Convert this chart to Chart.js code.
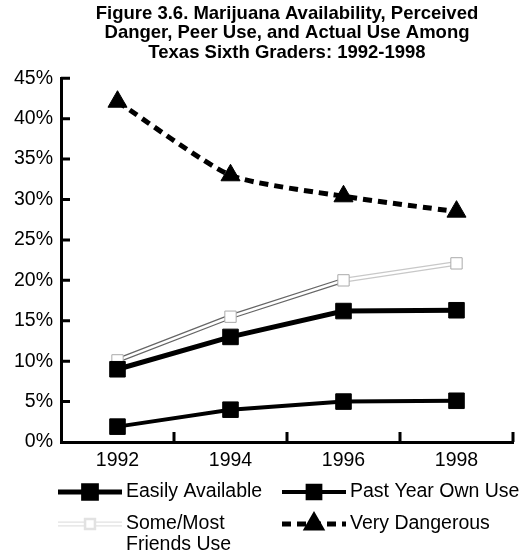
<!DOCTYPE html>
<html>
<head>
<meta charset="utf-8">
<script src="https://cdn.jsdelivr.net/npm/chart.js@4"></script>
<style>
  html, body { margin: 0; padding: 0; background: #fff; }
  canvas { display: block; }
</style>
</head>
<body>
<canvas id="chart" width="525" height="556"></canvas>
<script>
const years = ['1992', '1994', '1996', '1998'];
const easilyAvailable = [9.0, 13.0, 16.2, 16.3];
const pastYearOwnUse = [1.9, 4.0, 5.0, 5.1];
const friendsUse = [10.1, 15.5, 20.0, 22.1];
const veryDangerous = [42.1, 33.0, 30.4, 28.5];
const titleLines = [
    'Figure 3.6. Marijuana Availability, Perceived',
    'Danger, Peer Use, and Actual Use Among',
    'Texas Sixth Graders: 1992-1998'
];

const FONT = "'Liberation Sans', Arial, sans-serif";

// ticks that point into the plot, like the printed figure
const inwardTicks = {
    id: 'inwardTicks',
    beforeDatasetsDraw(chart) {
        const { ctx, chartArea, scales: { x, y } } = chart;
        ctx.save();
        ctx.strokeStyle = '#000';
        ctx.lineWidth = 3;
        ctx.beginPath();
        y.ticks.forEach(t => {
            if (t.value === 0) return;
            const py = y.getPixelForValue(t.value);
            ctx.moveTo(chartArea.left, py);
            ctx.lineTo(chartArea.left + 9, py);
        });
        x.ticks.forEach((t, i) => {
            const px = x.getPixelForValue(i + 0.5);
            ctx.moveTo(px, chartArea.bottom);
            ctx.lineTo(px, chartArea.bottom - 10);
        });
        ctx.stroke();
        ctx.restore();
    }
};

// two-column legend under the axis, with a wrapped label
const legendLayout = [
    { ds: 0, x: 58, y: 492, lines: ['Easily Available'], marker: 9 },
    { ds: 1, x: 282, y: 492, lines: ['Past Year Own Use'], marker: 9 },
    { ds: 2, x: 58, y: 524, lines: ['Some/Most', 'Friends Use'], marker: 7, outline: '#e2e2e2' },
    { ds: 4, x: 282, y: 524, lines: ['Very Dangerous'], marker: 8 }
];

const bottomLegend = {
    id: 'bottomLegend',
    afterDraw(chart) {
        const ctx = chart.ctx;
        legendLayout.forEach(item => {
            const ds = chart.data.datasets[item.ds];
            ctx.save();
            if (item.outline) {
                ctx.strokeStyle = item.outline;
                ctx.lineWidth = 5;
                ctx.beginPath();
                ctx.moveTo(item.x, item.y);
                ctx.lineTo(item.x + 64, item.y);
                ctx.stroke();
            }
            ctx.strokeStyle = ds.borderColor;
            ctx.lineWidth = ds.borderWidth;
            ctx.setLineDash(ds.borderDash || []);
            ctx.beginPath();
            ctx.moveTo(item.x, item.y);
            ctx.lineTo(item.x + 64, item.y);
            ctx.stroke();
            ctx.setLineDash([]);
            ctx.fillStyle = ds.pointBackgroundColor;
            ctx.strokeStyle = item.outline || ds.pointBorderColor;
            Chart.helpers.drawPoint(ctx, {
                pointStyle: ds.pointStyle,
                radius: item.marker,
                rotation: 0,
                borderWidth: ds.pointBorderWidth
            }, item.x + 32, item.y);
            ctx.fillStyle = '#000';
            ctx.font = '19.5px ' + FONT;
            ctx.textBaseline = 'middle';
            item.lines.forEach((line, i) => ctx.fillText(line, item.x + 68, item.y + i * 21));
            ctx.restore();
        });
    }
};

new Chart(document.getElementById('chart'), {
    type: 'line',
    data: {
        labels: years,
        datasets: [
            {
                label: 'Easily Available', data: easilyAvailable,
                borderColor: '#000', borderWidth: 5,
                pointStyle: 'rect', pointRadius: 11,
                pointBackgroundColor: '#000', pointBorderColor: '#000', pointBorderWidth: 1,
                order: 1
            },
            {
                label: 'Past Year Own Use', data: pastYearOwnUse,
                borderColor: '#000', borderWidth: 4,
                pointStyle: 'rect', pointRadius: 11,
                pointBackgroundColor: '#000', pointBorderColor: '#000', pointBorderWidth: 1,
                order: 1
            },
            {
                label: 'Some/Most Friends Use', data: friendsUse,
                borderColor: '#fff', borderWidth: 2.5,
                pointStyle: 'rect', pointRadius: 8,
                pointBackgroundColor: '#fff', pointBorderColor: '#aaa', pointBorderWidth: 1,
                order: 2
            },
            {
                // dark edges of the hollow friends line
                label: 'Some/Most Friends Use (edge)', data: friendsUse,
                borderColor: '#666', borderWidth: 5, pointRadius: 0,
                segment: { borderColor: c => c.p0DataIndex === 2 ? '#c8c8c8' : undefined },
                order: 3
            },
            {
                label: 'Very Dangerous', data: veryDangerous,
                borderColor: '#000', borderWidth: 5, borderDash: [9, 6], tension: 0.2,
                pointStyle: 'triangle', pointRadius: 11,
                pointBackgroundColor: '#000', pointBorderColor: '#000', pointBorderWidth: 1,
                order: 1
            }
        ]
    },
    options: {
        responsive: false,
        animation: false,
        events: [],
        layout: { padding: { left: 0, right: 7, top: 0, bottom: 84 } },
        plugins: {
            legend: { display: false },
            tooltip: { enabled: false },
            title: {
                display: true,
                text: titleLines,
                fullSize: false,
                color: '#000',
                font: { family: FONT, size: 18.5, weight: 'bold', lineHeight: 1.05 },
                padding: { top: 4, bottom: 16 }
            }
        },
        scales: {
            x: {
                offset: true,
                grid: { display: false, drawTicks: false },
                border: { display: true, color: '#000', width: 3 },
                ticks: { color: '#000', padding: 7, font: { family: FONT, size: 19.5 } },
                afterFit: s => { s.height = 30; }
            },
            y: {
                min: 0, max: 45,
                grid: { display: false, drawTicks: false },
                border: { display: true, color: '#000', width: 3 },
                ticks: {
                    stepSize: 5, color: '#000', padding: 8,
                    font: { family: FONT, size: 19.5 },
                    callback: v => v + '%'
                },
                afterFit: s => { s.width = 61; }
            }
        }
    },
    plugins: [inwardTicks, bottomLegend]
});
</script>
</body>
</html>
